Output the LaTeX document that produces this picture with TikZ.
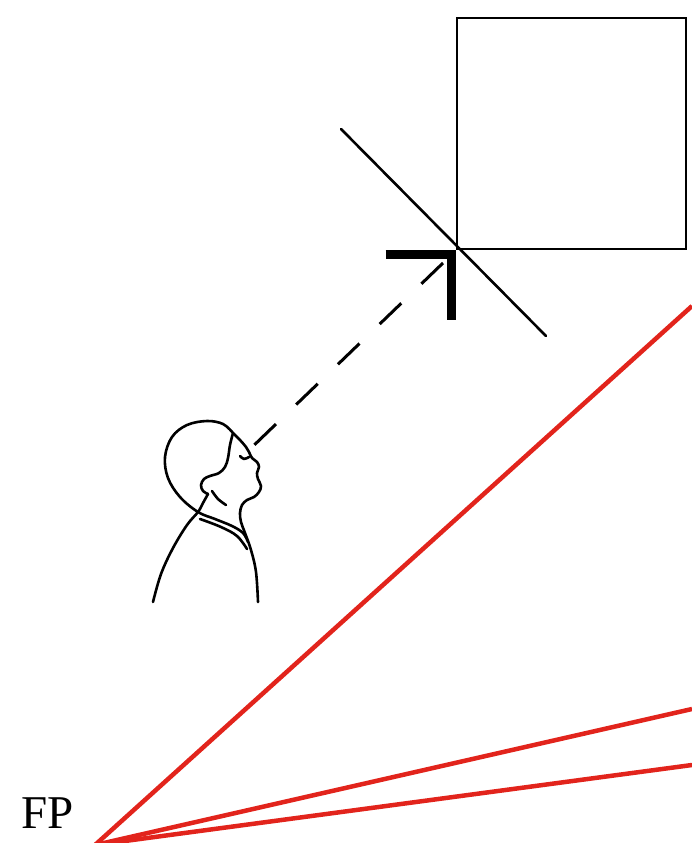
\documentclass[tikz,border=0pt]{standalone}
\usepackage{fontspec}
\setmainfont{Liberation Serif}
\usetikzlibrary{positioning}

\definecolor{rayred}{RGB}{226,36,28}

\begin{document}
\begin{tikzpicture}[x=1pt,y=1pt,yscale=-1,
		outline/.style={line width=2.6, line join=round, line cap=round},
		ray/.style={color=rayred, line width=4.5},
		sight/.style={line width=3, dash pattern=on 30 off 28}]
	\useasboundingbox (0,0) rectangle (692,843);

	%Shape: Square (picture plane)
	\node (board) [draw, line width=2.8, minimum width=229, minimum height=231, inner sep=0] at (571.5,133.5) {};
	\coordinate (corner) at (board.south west);

	%Straight Lines: mirror
	\coordinate (mirrortop) at (341,129);
	\coordinate (mirrorbot) at (546,336);
	\draw [outline] (mirrortop) -- (mirrorbot);

	%Shape: thick corner mark
	\draw [line width=9, line join=miter] ([xshift=-70,yshift=4]corner) -- ([xshift=-4,yshift=4]corner) -- ([xshift=-4,yshift=70]corner);

	%Straight Lines: line of sight
	\coordinate (aim) at (443,263);
	\coordinate (eye) at (247,452);
	\draw [sight] (aim) -- (eye);

	%Shape: viewer, head
	\draw [outline] plot [smooth, tension=0.6] coordinates {(248,542) (243,533) (232,526) (215,519) (198,512) (180,497) (168,478) (165,457) (172,437) (187,425) (207,421) (223,424) (233,433)};
	% hairline and ear
	\draw [outline] plot [smooth, tension=0.6] coordinates {(233,433) (230,445) (228,458) (225,467) (219,473) (210,476) (204,479) (201,485) (203,491) (208,494)};
	\draw [outline] plot [smooth, tension=0.6] coordinates {(212,491) (218,499) (226,505)};
	% face profile and front of body
	\draw [outline] plot [smooth, tension=0.6] coordinates {(233,433) (240,440) (246,447) (249,452) (252,458) (257,462) (259,467) (257,473) (258,479) (261,486) (259,492) (254,497) (247,500) (242,505) (240,513) (241,522) (245,533) (251,550) (256,572) (258,602)};
	\draw [outline] plot [smooth, tension=0.6] coordinates {(240,456) (244,459) (249,457)};
	% back of neck and shoulder
	\draw [outline] plot [smooth, tension=0.6] coordinates {(208,494) (203,503) (198,512) (187,525) (173,548) (161,574) (153,602)};
	% collar
	\draw [outline] plot [smooth, tension=0.6] coordinates {(200,519) (221,527) (237,536) (247,549)};

	%Straight Lines: rays from FP
	\coordinate (fp) at (95,845);
	\coordinate (ray1) at (692,306);
	\coordinate (ray2) at (692,709);
	\coordinate (ray3) at (692,765);
	\draw [ray] (fp) -- (ray1);
	\draw [ray] (fp) -- (ray2);
	\draw [ray] (fp) -- (ray3);

	% Text Node
	\node (fplabel) [anchor=base west, inner sep=0, font=\fontsize{47}{47}\selectfont] at (21,828) {FP};
\end{tikzpicture}
\end{document}
